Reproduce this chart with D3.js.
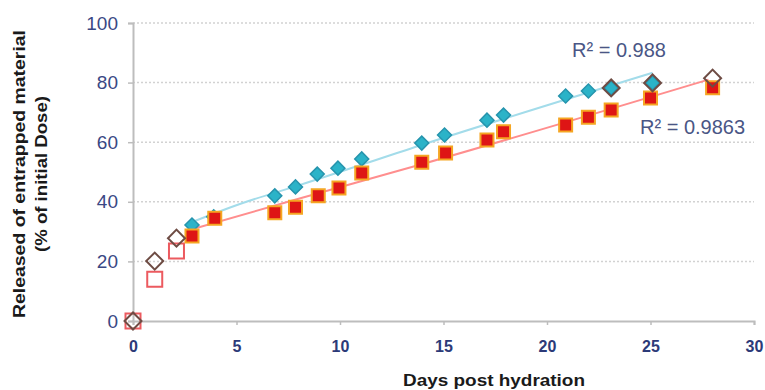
<!DOCTYPE html>
<html>
<head>
<meta charset="utf-8">
<script src="https://cdn.jsdelivr.net/npm/d3@7"></script>
<style>
  html, body { margin: 0; padding: 0; background: #ffffff; }
  svg { display: block; font-family: "Liberation Sans", Arial, sans-serif; }
</style>
</head>
<body>
<svg id="chart" width="765" height="390"></svg>
<script>
// values
const cyanDays = [2.85, 3.9, 6.85, 7.85, 8.9, 9.9, 11.05, 13.95, 15.05, 17.1, 17.9, 20.9, 22.0, 23.1, 25.1];
const cyanValues = [32.2, 35, 42, 45, 49.3, 51.3, 54.4, 59.7, 62.4, 67.4, 69.1, 75.5, 77.2, 78.2, 79.9];

const redDays = [2.85, 3.95, 6.85, 7.85, 8.95, 9.95, 11.05, 13.95, 15.1, 17.1, 17.9, 20.9, 22.0, 23.1, 25.0, 28.0];
const redValues = [28.5, 34.5, 36.3, 38.2, 42, 44.6, 49.7, 53.3, 56.4, 60.7, 63.5, 65.8, 68.4, 70.8, 74.8, 78.3];

const openSquareDays = [0, 1.05, 2.1];
const openSquareValues = [0, 14, 23.5];

const openDiamondDays = [0, 1.05, 2.1, 23.1, 25.1, 28.0];
const openDiamondValues = [0, 20.1, 27.8, 78.2, 79.9, 81.5];

// trendlines, sampled along the drawn curves
const cyanTrendDays = [2.6, 5.3, 8, 13.9, 25.1];
const cyanTrendValues = [32.5, 39.6, 45.5, 59, 83.3];
const redTrendDays = [2.6, 8, 13.9, 27.8];
const redTrendValues = [30.3, 41, 52.5, 81];

const xTicks = [0, 5, 10, 15, 20, 25, 30];
const yTicks = [0, 20, 40, 60, 80, 100];
const r2Labels = ["R\u00b2 = 0.988", "R\u00b2 = 0.9863"];

const zip = (xs, ys) => xs.map((x, i) => ({ x, y: ys[i] }));

const svg = d3.select("#chart");

const x = d3.scaleLinear().domain([0, 30]).range([133, 754]);
const y = d3.scaleLinear().domain([0, 100]).range([321, 23]);

// dotted gridlines
svg.append("g")
  .selectAll("line")
  .data(yTicks.filter(d => d > 0))
  .enter()
  .append("line")
  .attr("x1", x(0))
  .attr("x2", x(30))
  .attr("y1", d => y(d))
  .attr("y2", d => y(d))
  .attr("stroke", "#d2d2d2")
  .attr("stroke-width", 1.5)
  .attr("stroke-dasharray", "2,2");

// y axis
const yAxis = svg.append("g")
  .attr("transform", `translate(${x(0)},0)`)
  .call(d3.axisLeft(y).tickValues(yTicks).tickSize(5).tickPadding(10));
yAxis.select(".domain").attr("stroke", "#bdbdbd").attr("stroke-width", 2);
yAxis.selectAll(".tick line").attr("stroke", "#bdbdbd").attr("stroke-width", 1.5);
yAxis.selectAll(".tick text")
  .attr("fill", "#3a4884")
  .style("font-size", "19px")
  .style("font-family", "'Liberation Sans', Arial, sans-serif");

// x axis
const xAxis = svg.append("g")
  .attr("transform", `translate(0,${y(0)})`)
  .call(d3.axisBottom(x).tickValues(xTicks).tickSize(4).tickPadding(16));
xAxis.select(".domain").attr("stroke", "#bdbdbd").attr("stroke-width", 2);
xAxis.selectAll(".tick line").attr("stroke", "#bdbdbd").attr("stroke-width", 1.5);
xAxis.selectAll(".tick text")
  .attr("fill", "#2c3a78")
  .style("font-size", "16px")
  .style("font-weight", "bold")
  .style("font-family", "'Liberation Sans', Arial, sans-serif");

// trendlines
const line = d3.line()
  .x(d => x(d.x))
  .y(d => y(d.y))
  .curve(d3.curveMonotoneX);

svg.append("path")
  .datum(zip(cyanTrendDays, cyanTrendValues))
  .attr("d", line)
  .attr("fill", "none")
  .attr("stroke", "#a3dcea")
  .attr("stroke-width", 2);

svg.append("path")
  .datum(zip(redTrendDays, redTrendValues))
  .attr("d", line)
  .attr("fill", "none")
  .attr("stroke", "#ff8e8e")
  .attr("stroke-width", 2);

const square = size => d3.symbol().type(d3.symbolSquare).size(size)();

// open red squares
svg.append("g")
  .selectAll("path")
  .data(zip(openSquareDays, openSquareValues))
  .enter()
  .append("path")
  .attr("d", square(225))
  .attr("transform", d => `translate(${x(d.x)},${y(d.y)})`)
  .attr("fill", "none")
  .attr("stroke", "#ec5a5f")
  .attr("stroke-width", 2);

// cyan diamonds
svg.append("g")
  .selectAll("path")
  .data(zip(cyanDays, cyanValues))
  .enter()
  .append("path")
  .attr("d", square(98))
  .attr("transform", d => `translate(${x(d.x)},${y(d.y)}) rotate(45)`)
  .attr("fill", "#2bb3c8")
  .attr("stroke", "#2694ad")
  .attr("stroke-width", 1.5);

// filled red squares
svg.append("g")
  .selectAll("path")
  .data(zip(redDays, redValues))
  .enter()
  .append("path")
  .attr("d", square(169))
  .attr("transform", d => `translate(${x(d.x)},${y(d.y)})`)
  .attr("fill", "#de1515")
  .attr("stroke", "#f5a623")
  .attr("stroke-width", 2);

// open brown diamonds
svg.append("g")
  .selectAll("path")
  .data(zip(openDiamondDays, openDiamondValues))
  .enter()
  .append("path")
  .attr("d", square(144))
  .attr("transform", d => `translate(${x(d.x)},${y(d.y)}) rotate(45)`)
  .attr("fill", "none")
  .attr("stroke", "#6e4c44")
  .attr("stroke-width", 2);

// R² labels
svg.append("text")
  .attr("x", 572)
  .attr("y", 57)
  .attr("fill", "#4a5685")
  .style("font-size", "20px")
  .text(r2Labels[0]);

svg.append("text")
  .attr("x", 640)
  .attr("y", 134)
  .attr("fill", "#4a5685")
  .style("font-size", "20px")
  .text(r2Labels[1]);

// axis titles
svg.append("text")
  .attr("x", 494)
  .attr("y", 386)
  .attr("text-anchor", "middle")
  .attr("fill", "#1a1a1a")
  .attr("textLength", 182)
  .attr("lengthAdjust", "spacingAndGlyphs")
  .style("font-size", "16px")
  .style("font-weight", "bold")
  .text("Days post hydration");

const yTitle = svg.append("g")
  .attr("transform", "translate(0,174) rotate(-90)");

yTitle.append("text")
  .attr("x", 0)
  .attr("y", 25)
  .attr("text-anchor", "middle")
  .attr("fill", "#1a1a1a")
  .attr("textLength", 288)
  .attr("lengthAdjust", "spacingAndGlyphs")
  .style("font-size", "16px")
  .style("font-weight", "bold")
  .text("Released of entrapped material");

yTitle.append("text")
  .attr("x", 0)
  .attr("y", 47)
  .attr("text-anchor", "middle")
  .attr("fill", "#1a1a1a")
  .attr("textLength", 156)
  .attr("lengthAdjust", "spacingAndGlyphs")
  .style("font-size", "16px")
  .style("font-weight", "bold")
  .text("(% of initial Dose)");
</script>
</body>
</html>
